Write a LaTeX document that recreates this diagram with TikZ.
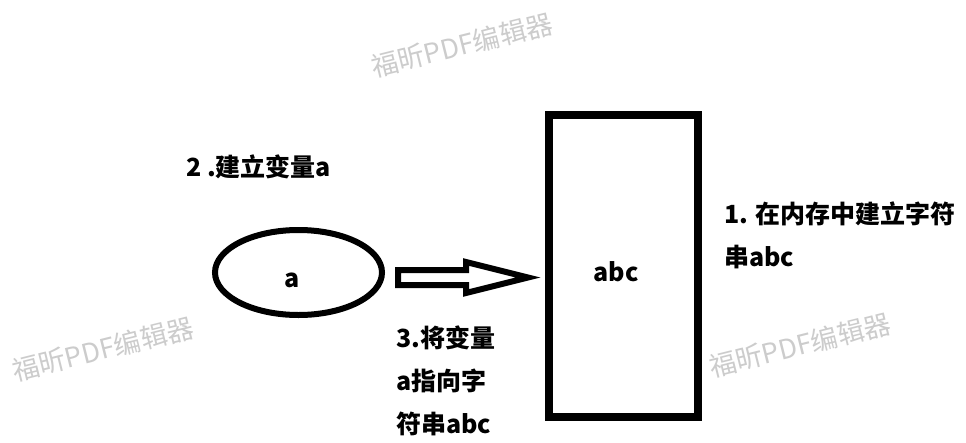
\documentclass[tikz,border=0pt]{standalone}
\usepackage{fontspec}
\setmainfont{Noto Sans CJK SC}
\usetikzlibrary{shapes.geometric}
\tikzset{
  lbl/.style={font=\bfseries\fontsize{25}{43}\selectfont, inner sep=0pt, align=left},
  wmark/.style={font=\fontsize{27}{30}\selectfont, text=black!20, rotate=14, inner sep=0pt},
}
\begin{document}
\begin{tikzpicture}[x=1pt,y=-1pt]
\fill[white] (0,0) rectangle (966,442);
\useasboundingbox (0,0) rectangle (966,442);
% watermarks
\node[wmark] (w1) at (462,45) {福昕PDF编辑器};
\node[wmark] (w2) at (103,349) {福昕PDF编辑器};
\node[wmark] (w3) at (800,345) {福昕PDF编辑器};
% memory box
\node[draw, line width=8pt, minimum width=149pt, minimum height=302pt, inner sep=0pt] (box) at (623.5,265.5) {};
\node[lbl] (abc) at (616,271.5) {abc};
% variable ellipse
\node[ellipse, draw, line width=6pt, minimum width=167pt, minimum height=85pt, inner sep=0pt] (ell) at (298.5,272.5) {};
\node[lbl] (va) at (292,280) {a};
% hollow arrow
\draw[line width=6pt, line join=miter] (398,270) -- (466,270) -- (466,262) -- (528,277.5) -- (466,293) -- (466,285) -- (398,285) -- cycle;
% labels
\node[lbl, anchor=west] (t2) at (186,167) {2 .建立变量a};
\node[lbl, anchor=west] (t1) at (724,235) {1. 在内存中建立字符\\串abc};
\node[lbl, anchor=west] (t3) at (396,381) {3.将变量\\a指向字\\符串abc};
\end{tikzpicture}
\end{document}
